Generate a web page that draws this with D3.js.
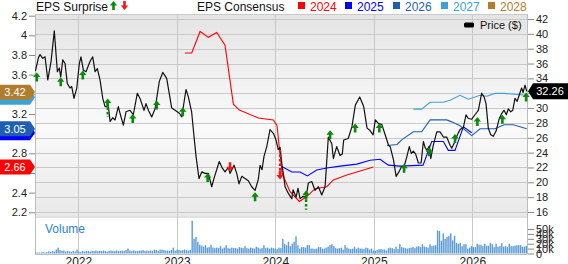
<!DOCTYPE html>
<html>
<head>
  <meta charset="utf-8">
  <title>EPS Surprise and Consensus vs Price</title>
  <script src="https://d3js.org/d3.v7.min.js"></script>
  <style>
    body { margin: 0; background: #fff; }
    svg { display: block; font-family: "Liberation Sans", Arial, sans-serif; }
  </style>
</head>
<body>
  <svg id="chart"></svg>

  <script type="text/javascript">
    const svg_width = 568;
    const svg_height = 264;

    // price series (decimal year, $)
    const priceT = [2021.565, 2021.595, 2021.611, 2021.639, 2021.662, 2021.690, 2021.723, 2021.756, 2021.787, 2021.807,
      2021.821, 2021.842, 2021.865, 2021.888, 2021.916, 2021.933, 2021.956, 2021.984, 2022.010, 2022.027,
      2022.051, 2022.078, 2022.119, 2022.146, 2022.170, 2022.193, 2022.220, 2022.248, 2022.271, 2022.305,
      2022.322, 2022.349, 2022.373, 2022.406, 2022.423, 2022.457, 2022.484, 2022.525, 2022.558, 2022.599,
      2022.626, 2022.667, 2022.687, 2022.711, 2022.745, 2022.779, 2022.822, 2022.857, 2022.897, 2022.948,
      2022.982, 2023.025, 2023.050, 2023.093, 2023.117, 2023.150, 2023.175, 2023.195, 2023.225, 2023.253,
      2023.286, 2023.320, 2023.354, 2023.381, 2023.431, 2023.462, 2023.489, 2023.523, 2023.540, 2023.581,
      2023.608, 2023.631, 2023.659, 2023.692, 2023.726, 2023.760, 2023.794, 2023.827, 2023.845, 2023.865,
      2023.885, 2023.913, 2023.946, 2023.980, 2024.007, 2024.030, 2024.048, 2024.065, 2024.081, 2024.099,
      2024.132, 2024.167, 2024.180, 2024.211, 2024.230, 2024.251, 2024.280, 2024.312, 2024.335, 2024.370,
      2024.403, 2024.437, 2024.471, 2024.505, 2024.538, 2024.573, 2024.589, 2024.623, 2024.657, 2024.680,
      2024.694, 2024.740, 2024.778, 2024.812, 2024.857, 2024.897, 2024.931, 2024.960, 2024.992, 2025.015,
      2025.048, 2025.081, 2025.115, 2025.149, 2025.166, 2025.200, 2025.226, 2025.255, 2025.280, 2025.307,
      2025.334, 2025.360, 2025.380, 2025.401, 2025.425, 2025.452, 2025.480, 2025.503, 2025.520, 2025.540,
      2025.563, 2025.578, 2025.604, 2025.639, 2025.672, 2025.706, 2025.740, 2025.774, 2025.791, 2025.824,
      2025.848, 2025.875, 2025.909, 2025.936, 2025.959, 2025.994, 2026.027, 2026.061, 2026.095, 2026.119,
      2026.139, 2026.162, 2026.187, 2026.213, 2026.241, 2026.274, 2026.299, 2026.322, 2026.345, 2026.366,
      2026.390, 2026.410, 2026.433, 2026.455, 2026.477, 2026.500, 2026.515, 2026.535, 2026.552];
    const priceV = [35.0, 36.8, 37.2, 36.7, 36.9, 33.8, 36.3, 40.4, 34.9, 35.4,
      34.2, 36.5, 36.0, 33.3, 32.7, 32.9, 31.3, 32.7, 36.0, 36.9,
      35.1, 34.9, 36.3, 36.9, 34.9, 35.3, 33.8, 31.3, 30.2, 30.2,
      28.2, 28.7, 28.4, 30.2, 29.3, 27.7, 29.5, 29.7, 29.1, 32.0,
      31.3, 29.7, 30.6, 29.7, 28.8, 29.9, 33.6, 34.8, 34.0, 30.0,
      29.7, 29.3, 28.8, 32.5, 31.5, 29.5, 26.1, 23.5, 20.5, 21.4,
      21.2, 21.2, 19.4, 20.7, 22.8, 21.9, 21.4, 22.0, 21.2, 22.3,
      21.2, 19.8, 20.8, 20.5, 20.2, 19.4, 18.9, 20.4, 22.3, 21.7,
      23.5, 24.8, 27.1, 26.6, 25.7, 24.4, 24.7, 22.6, 21.2, 19.4,
      18.5, 17.8, 19.0, 18.0, 19.2, 17.8, 18.1, 18.0, 19.9, 20.1,
      18.9, 19.4, 18.3, 19.4, 26.1, 25.2, 23.2, 24.8, 23.6, 23.8,
      25.7, 25.9, 27.5, 30.4, 31.5, 30.2, 27.3, 27.0, 26.4, 28.4,
      27.9, 27.8, 26.4, 25.0, 24.8, 23.0, 20.8, 21.4, 22.1, 22.1,
      23.4, 24.8, 23.9, 24.2, 23.8, 22.6, 22.6, 25.5, 24.7, 24.3,
      24.9, 23.2, 25.0, 26.8, 26.8, 26.1, 26.1, 25.0, 24.6, 25.5,
      26.4, 27.1, 27.4, 29.1, 28.6, 28.5, 29.1, 29.7, 32.0, 31.5,
      30.6, 27.3, 26.4, 26.2, 26.9, 28.6, 29.3, 29.7, 29.1, 29.9,
      29.5, 29.7, 31.3, 30.9, 31.8, 32.7, 32.1, 33.1, 32.26];
    const lastPrice = "32.26";

    // consensus EPS by fiscal year
    const eps2024T = [2023.083, 2023.151, 2023.236, 2023.320, 2023.405, 2023.489, 2023.574, 2023.635, 2023.827, 2023.980,
      2024.017, 2024.068, 2024.149, 2024.244, 2024.319, 2024.403, 2024.522, 2024.589, 2024.725, 2024.827, 2024.995];
    const eps2024V = [3.82, 3.82, 4.04, 3.98, 4.03, 3.90, 3.30, 3.24, 3.16, 3.14,
      3.08, 2.60, 2.41, 2.31, 2.36, 2.44, 2.46, 2.53, 2.58, 2.61, 2.66];
    const eps2025T = [2024.075, 2024.167, 2024.251, 2024.325, 2024.420, 2024.522, 2024.657, 2024.827, 2024.962, 2025.063,
      2025.148, 2025.266, 2025.500, 2025.588, 2025.706, 2025.756, 2025.824, 2025.909, 2025.994];
    const eps2025V = [2.66, 2.61, 2.61, 2.57, 2.63, 2.65, 2.67, 2.69, 2.73, 2.74,
      2.68, 2.67, 2.68, 2.92, 2.92, 2.83, 2.83, 3.07, 3.01];
    const eps2026T = [2025.134, 2025.236, 2025.286, 2025.401, 2025.486, 2025.571, 2025.740, 2025.791, 2025.875, 2025.994,
      2026.078, 2026.231, 2026.322, 2026.416, 2026.552];
    const eps2026V = [2.88, 2.89, 2.94, 3.02, 3.02, 3.14, 3.14, 3.12, 3.08, 2.98,
      3.05, 3.05, 3.09, 3.09, 3.05];
    const eps2027T = [2025.401, 2025.486, 2025.571, 2025.706, 2025.774, 2025.875, 2025.959, 2026.078, 2026.146, 2026.231,
      2026.322, 2026.552];
    const eps2027V = [3.25, 3.25, 3.32, 3.32, 3.34, 3.39, 3.35, 3.39, 3.38, 3.41,
      3.41, 3.39];
    const eps2028T = [2026.552];
    const eps2028V = [3.42];

    const fiscalYears = ["2024", "2025", "2026", "2027", "2028"];
    const fyColors = ["#ff0000", "#0000ff", "#1f5fb0", "#3ea2d6", "#b17d2c"];
    const fyLabels = ["2.66", "3.01", "3.05", "3.37", "3.42"];
    // tags covered by the next one carry no readable text
    const fyLabelShown = [1, 0, 1, 0, 1];

    // EPS surprise markers, placed on the price line
    const surpriseT = [2021.578, 2021.821, 2022.045, 2022.298, 2022.552, 2022.796, 2023.060, 2023.313, 2023.540, 2023.794,
      2024.048, 2024.312, 2024.556, 2024.810, 2025.056, 2025.307, 2025.563, 2025.824, 2026.051, 2026.305, 2026.546];
    const surpriseP = [34.2, 33.55, 34.45, 30.7, 28.6, 30.4, 29.5, 20.65, 22.1, 18.05,
      21.0, 18.3, 26.4, 27.3, 27.3, 21.9, 24.1, 25.9, 28.2, 28.5, 31.5];
    const surpriseUp = [1, 1, 1, 1, 1, 1, 1, 1, 0, 1,
      0, 1, 1, 1, 1, 1, 1, 1, 1, 1, 1];
    const surpriseTail = [null, null, null, 28.8, null, null, null, null, null, null,
      24.4, 16.3, null, null, null, null, null, null, null, null, null];

    // weekly volume (thousands)
    const volStart = 2021.565;
    const volume = [2, 2, 2, 2, 3, 2, 3, 4, 3, 5, 4,
      8, 12, 7, 5, 6,
      4, 5, 4, 3, 5, 4, 8, 4, 3, 5,
      4, 5, 5, 4, 5, 5, 6, 5, 5, 5, 6, 5, 4, 5, 6, 5, 5, 6, 5, 5, 6, 5, 7, 10, 6,
      5, 6, 5, 5, 6, 6, 7, 5, 6, 5, 6, 5, 8, 7, 5, 8, 8, 7, 6, 6, 5, 7, 12, 6, 8,
      7, 6, 7, 8, 7, 6, 7,
      67,
      30, 34, 24, 18, 16,
      14, 17, 12, 13, 18, 12, 11,
      12, 11, 15, 10, 12, 17, 11, 10, 12, 11,
      11, 10, 13, 12, 11, 15, 11, 10, 12, 11, 10, 14, 12, 10, 11,
      17, 11, 12, 10, 12, 11, 10, 9, 12, 11, 30,
      20, 17, 24, 15, 20, 24, 35, 17, 10,
      13, 13, 12, 17, 17,
      10, 10, 9, 10, 13,
      13, 10, 10, 12, 14, 17, 19, 15, 11, 10,
      11, 12, 8, 17, 12, 10, 9, 10, 14, 9,
      12, 10, 10, 9, 12, 11, 8, 10, 6, 5,
      7, 9, 9, 8, 8, 6, 11, 12, 11, 9,
      14, 9, 19, 13, 12, 11, 10, 11, 12, 13,
      11, 14, 15, 13, 19, 14, 13, 12, 19, 15,
      16, 17, 47, 46, 26,
      41, 30, 34, 36, 41, 27, 36, 22, 20, 22,
      15, 19, 19, 10, 12, 15, 13, 13, 20, 18,
      18, 15, 20, 16, 16, 22, 19, 13, 20, 14,
      15, 21, 14, 15, 13, 20, 15, 15, 16, 17,
      17, 17, 14, 14, 16];

    const yearTicks = [2022, 2023, 2024, 2025, 2026];
    const epsTicks = [2.2, 2.4, 2.6, 2.8, 3.0, 3.2, 3.4, 3.6, 3.8, 4.0, 4.2];
    // labels that sit under the value tags
    const epsTicksHidden = ["2.6", "3", "3.4"];
    const priceTicks = [16, 18, 20, 22, 24, 26, 28, 30, 32, 34, 36, 38, 40, 42];
    const volTicks = [0, 10, 20, 30, 40, 50];

    var main = { left: 35, right: 527, top: 14, bottom: 216 };
    var vol = { top: 218, bottom: 254 };

    var x = d3.scaleLinear().domain([2021.56, 2026.555]).range([main.left, main.right]);
    var yEps = d3.scaleLinear().domain([2.2, 4.2]).range([212.3, 15.7]);
    var yPrice = d3.scaleLinear().domain([16, 42]).range([212, 19]);
    var yVol = d3.scaleLinear().domain([0, 50]).range([253.5, 229]);

    var svg = d3.select("#chart")
      .attr("width", svg_width)
      .attr("height", svg_height);

    var grad = svg.append("defs").append("linearGradient")
      .attr("id", "bg").attr("x1", 0).attr("y1", 0).attr("x2", 0).attr("y2", 1);
    grad.append("stop").attr("offset", "0%").attr("stop-color", "#e4e4e4");
    grad.append("stop").attr("offset", "55%").attr("stop-color", "#fafafa");
    grad.append("stop").attr("offset", "100%").attr("stop-color", "#e9e9e9");

    svg.append("rect")
      .attr("x", main.left).attr("y", main.top)
      .attr("width", main.right - main.left).attr("height", main.bottom - main.top)
      .attr("fill", "url(#bg)");

    svg.append("rect")
      .attr("x", main.left).attr("y", main.bottom)
      .attr("width", main.right - main.left).attr("height", vol.top - main.bottom)
      .attr("fill", "#e2e2e2");

    // gridlines
    svg.append("g").selectAll("line")
      .data(priceTicks).enter().append("line")
      .attr("x1", main.left).attr("x2", main.right)
      .attr("y1", d => Math.round(yPrice(d)) + 0.5)
      .attr("y2", d => Math.round(yPrice(d)) + 0.5)
      .attr("stroke", "#c9c9c9");

    svg.append("g").selectAll("line")
      .data(yearTicks).enter().append("line")
      .attr("x1", d => Math.round(x(d)) + 0.5).attr("x2", d => Math.round(x(d)) + 0.5)
      .attr("y1", main.top).attr("y2", vol.bottom)
      .attr("stroke", "#c9c9c9");

    // frame
    svg.append("line")
      .attr("x1", main.left + 0.5).attr("x2", main.left + 0.5)
      .attr("y1", main.top).attr("y2", vol.bottom)
      .attr("stroke", "#bdbdbd");
    svg.append("line")
      .attr("x1", main.right + 0.5).attr("x2", main.right + 0.5)
      .attr("y1", main.top).attr("y2", vol.bottom)
      .attr("stroke", "#bdbdbd");
    svg.append("line")
      .attr("x1", main.left).attr("x2", main.right)
      .attr("y1", main.top + 0.5).attr("y2", main.top + 0.5)
      .attr("stroke", "#c9c9c9");
    svg.append("line")
      .attr("x1", main.left).attr("x2", main.right)
      .attr("y1", vol.bottom + 0.5).attr("y2", vol.bottom + 0.5)
      .attr("stroke", "#bdbdbd");

    // volume bars
    svg.append("g").selectAll("rect")
      .data(volume).enter().append("rect")
      .attr("x", (d, i) => x(volStart + i * 7 / 365.25) - 0.7)
      .attr("width", 1.4)
      .attr("y", d => yVol(d))
      .attr("height", d => yVol(0) - yVol(d))
      .attr("fill", "#5b9bd5");

    svg.append("text")
      .attr("x", 45).attr("y", 233)
      .style("font-size", "12px")
      .attr("fill", "#2f86cc")
      .text("Volume");

    // EPS consensus lines
    var epsSeries = [
      [eps2024T, eps2024V], [eps2025T, eps2025V], [eps2026T, eps2026V],
      [eps2027T, eps2027V], [eps2028T, eps2028V]
    ];
    var epsLine = d3.line()
      .x(d => x(d[0]))
      .y(d => yEps(d[1]));

    epsSeries.forEach(function(s, k) {
      svg.append("path")
        .datum(d3.zip(s[0], s[1]))
        .attr("d", epsLine)
        .attr("fill", "none")
        .attr("stroke", fyColors[k])
        .attr("stroke-width", 1.1);
    });

    // price line
    var priceLine = d3.line()
      .x(d => x(d[0]))
      .y(d => yPrice(d[1]));

    svg.append("path")
      .datum(d3.zip(priceT, priceV))
      .attr("d", priceLine)
      .attr("fill", "none")
      .attr("stroke", "#111")
      .attr("stroke-width", 1.2)
      .attr("stroke-linejoin", "round");

    // surprise arrows
    function arrowPath(up) {
      return up ?
        "M0,-4.5L3.7,0L1.3,0L1.3,4.5L-1.3,4.5L-1.3,0L-3.7,0Z" :
        "M0,4.5L3.7,0L1.3,0L1.3,-4.5L-1.3,-4.5L-1.3,0L-3.7,0Z";
    }

    var marks = surpriseT.map(function(t, i) {
      return { t: t, p: surpriseP[i], up: surpriseUp[i] === 1, tail: surpriseTail[i] };
    });

    svg.append("g").selectAll("line")
      .data(marks.filter(d => d.tail !== null)).enter().append("line")
      .attr("x1", d => x(d.t)).attr("x2", d => x(d.t))
      .attr("y1", d => yPrice(d.p)).attr("y2", d => yPrice(d.tail))
      .attr("stroke", d => d.up ? "#0a8a0a" : "#f01818")
      .attr("stroke-width", 2.4)
      .attr("stroke-dasharray", "2.5,2");

    svg.append("g").selectAll("path")
      .data(marks).enter().append("path")
      .attr("transform", d => "translate(" + x(d.t) + "," + yPrice(d.p) + ")")
      .attr("d", d => arrowPath(d.up))
      .attr("fill", d => d.up ? "#0a8a0a" : "#f01818");

    // axes
    var leftAxis = d3.axisLeft(yEps)
      .tickValues(epsTicks)
      .tickSize(6)
      .tickPadding(2)
      .tickFormat(function(d) {
        var s = String(+d.toFixed(1));
        return epsTicksHidden.indexOf(s) >= 0 ? "" : s;
      });

    var gl = svg.append("g")
      .attr("transform", "translate(" + main.left + ",0)")
      .call(leftAxis);

    // the 32 label sits under the last-price tag
    var rightAxis = d3.axisRight(yPrice)
      .tickValues(priceTicks)
      .tickSize(6)
      .tickPadding(2)
      .tickFormat(d => d === 32 ? "" : d);

    var gr = svg.append("g")
      .attr("transform", "translate(" + (main.right + 1) + ",0)")
      .call(rightAxis);

    var volAxis = d3.axisRight(yVol)
      .tickValues(volTicks)
      .tickSize(6)
      .tickPadding(2)
      .tickFormat(d => d === 0 ? "0" : d + "k");

    var gv = svg.append("g")
      .attr("transform", "translate(" + (main.right + 1) + ",0)")
      .call(volAxis);

    var bottomAxis = d3.axisBottom(x)
      .tickValues(yearTicks)
      .tickSize(0)
      .tickPadding(3)
      .tickFormat(d3.format("d"));

    var gb = svg.append("g")
      .attr("transform", "translate(0," + vol.bottom + ")")
      .call(bottomAxis);

    [gl, gr, gv, gb].forEach(function(g) {
      g.select(".domain").remove();
      g.selectAll(".tick line").attr("stroke", "#888");
      g.selectAll(".tick text")
        .attr("fill", "#222")
        .style("font-family", "'Liberation Sans', Arial, sans-serif")
        .style("font-size", "11px");
    });
    gb.selectAll(".tick text").style("font-size", "12px");

    // EPS value tags on the left
    var tags = fyLabels.map((v, k) => ({ v: +v, txt: v, color: fyColors[k], shown: fyLabelShown[k] }));
    var tag = svg.append("g").selectAll("g")
      .data(tags).enter().append("g")
      .attr("transform", d => "translate(0," + yEps(d.v) + ")");
    tag.append("path")
      .attr("d", "M0,-7.5L30,-7.5L35,0L30,7.5L0,7.5Z")
      .attr("fill", d => d.color);
    tag.filter(d => d.shown).append("text")
      .attr("x", 15).attr("y", 4)
      .attr("text-anchor", "middle")
      .attr("fill", "#fff")
      .style("font-size", "11px")
      .text(d => d.txt);

    // last price tag
    var pt = svg.append("g")
      .attr("transform", "translate(" + (main.right + 1) + "," + yPrice(+lastPrice) + ")");
    pt.append("path")
      .attr("d", "M0,0L5,-8L40,-8L40,8L5,8Z")
      .attr("fill", "#000");
    pt.append("text")
      .attr("x", 22).attr("y", 4)
      .attr("text-anchor", "middle")
      .attr("fill", "#fff")
      .style("font-size", "11px")
      .text(lastPrice);

    // legend
    var legend = svg.append("g").style("font-size", "12px").attr("fill", "#111");
    legend.append("text").attr("x", 36).attr("y", 10.5).text("EPS Surprise");
    legend.append("path")
      .attr("transform", "translate(113.5,5.5)")
      .attr("d", arrowPath(true)).attr("fill", "#0a8a0a");
    legend.append("path")
      .attr("transform", "translate(124.5,5.5)")
      .attr("d", arrowPath(false)).attr("fill", "#f01818");
    legend.append("text").attr("x", 197).attr("y", 10.5).text("EPS Consensus");

    var legendX = [298, 345, 393, 441, 488];
    var item = legend.selectAll(".fy")
      .data(fiscalYears).enter().append("g")
      .attr("class", "fy")
      .attr("transform", (d, i) => "translate(" + legendX[i] + ",0)");
    item.append("rect")
      .attr("x", 0).attr("y", 2)
      .attr("width", 7).attr("height", 7)
      .attr("fill", (d, i) => fyColors[i]);
    item.append("text")
      .attr("x", 12).attr("y", 10.5)
      .attr("fill", (d, i) => fyColors[i])
      .text(d => d);

    svg.append("rect")
      .attr("x", 464).attr("y", 22.5)
      .attr("width", 10).attr("height", 5)
      .attr("rx", 1.5)
      .attr("fill", "#000");
    svg.append("text")
      .attr("x", 480).attr("y", 29)
      .style("font-size", "11px")
      .attr("fill", "#111")
      .text("Price ($)");
  </script>
</body>
</html>
